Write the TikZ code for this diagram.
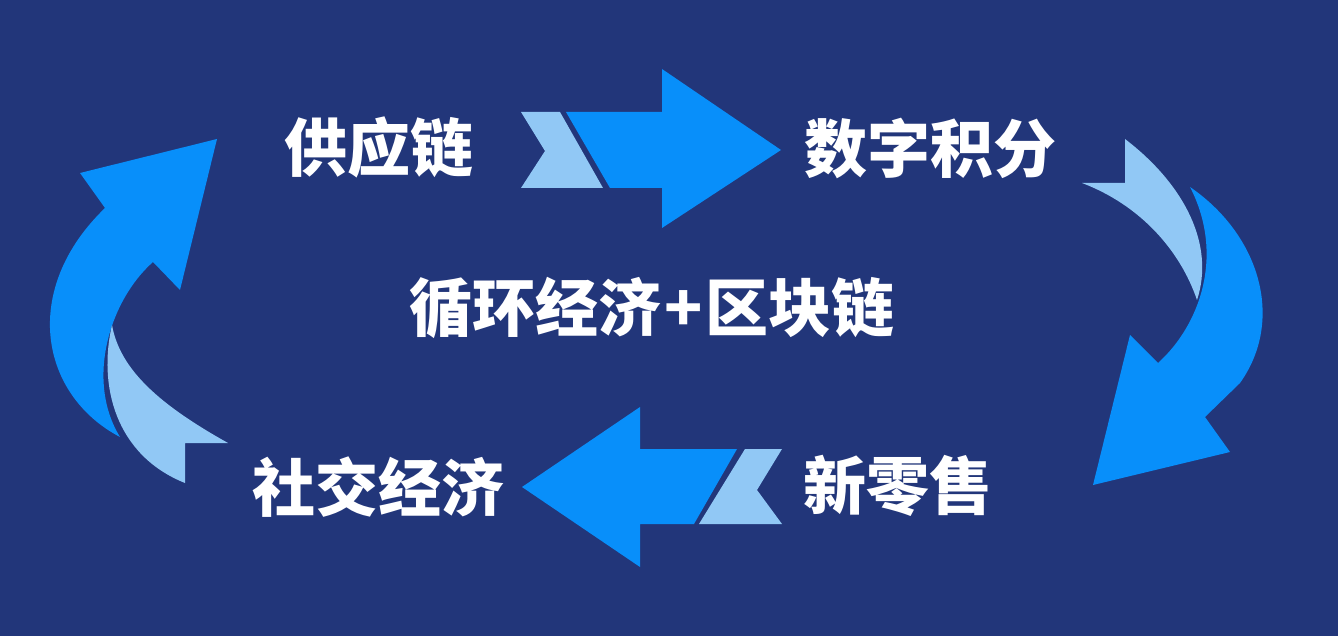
\documentclass[tikz,border=0pt]{standalone}
\usepackage{fontspec}
\newfontfamily\cjk{Noto Sans CJK SC}[BoldFont={* Black}]
\definecolor{bgnavy}{RGB}{34,54,122}
\definecolor{arrowblue}{RGB}{8,143,250}
\definecolor{paleblue}{RGB}{145,200,245}
\begin{document}
\begin{tikzpicture}[x=1pt, y=-1pt, line join=round,
	lbl/.style={text=white, inner sep=0pt, font=\cjk\bfseries\fontsize{63}{63}\selectfont}]
	\fill[bgnavy] (0,0) rectangle (1338,636);
	\useasboundingbox (0,0) rectangle (1338,636);
	% Nhãn
	\node[lbl] (chuoi) at (379,147) {供应链};
	\node[lbl] (diem) at (930,148) {数字积分};
	\node[lbl] (banle) at (898,486) {新零售};
	\node[lbl] (xahoi) at (378,487) {社交经济};
	\node[lbl] (tam) at (652,308) {循环经济\kern3pt+\kern3pt区块链};
	% Mũi tên trên
	\fill[paleblue] (521,112)--(560,112)--(603,188)--(521,188)--(545,151)--cycle;
	\fill[arrowblue] (566,112)--(662,112)--(662,69)--(781,150)--(662,228)--(662,188)--(610,188)--cycle;
	% Mũi tên dưới
	\fill[paleblue] (745,449)--(782,449)--(757,490)--(782,524)--(699,524)--cycle;
	\fill[arrowblue] (737,449)--(640,449)--(640,407)--(522,487)--(640,567)--(640,524)--(694,524)--cycle;
	% Mũi tên cong phải
	\fill[paleblue] (1082,183)--(1125,183)--(1125,139) .. controls (1185,185) and (1215,245) .. (1197,300)
		.. controls (1180,250) and (1140,205) .. cycle;
	\fill[arrowblue] (1190,187) .. controls (1260,235) and (1285,320) .. (1240,383)
		--(1205,417)--(1230,452)--(1093,485)--(1130,335)--(1158,363)
		.. controls (1200,325) and (1225,255) .. cycle;
	% Mũi tên cong trái
	\fill[arrowblue] (120,437) .. controls (40,395) and (20,290) .. (105,208)
		--(80,173)--(217,139)--(180,290)--(153,262)
		.. controls (110,300) and (85,380) .. cycle;
	\fill[paleblue] (112,325) .. controls (98,385) and (115,455) .. (185,483)
		--(185,443)--(228,443) .. controls (160,405) and (120,370) .. cycle;
\end{tikzpicture}
\end{document}
